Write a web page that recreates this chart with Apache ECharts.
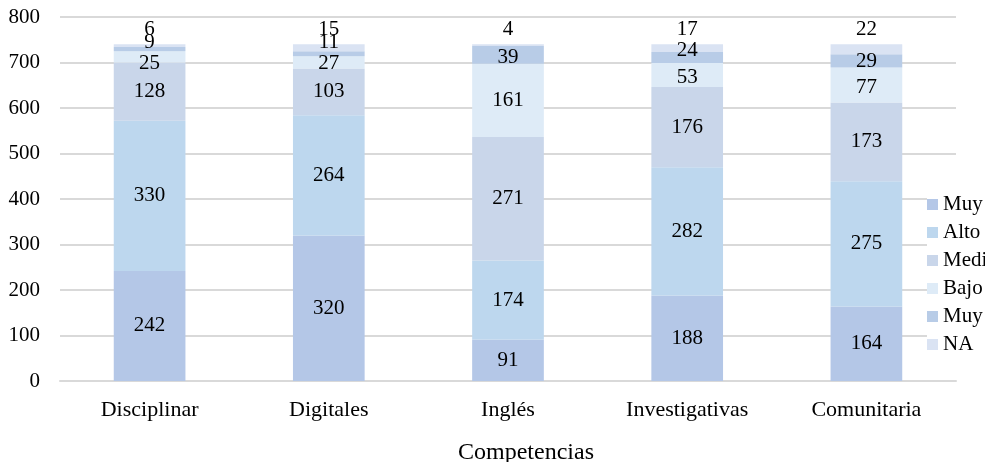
<!DOCTYPE html>
<html><head><meta charset="utf-8">
<script src="https://cdn.jsdelivr.net/npm/echarts@6/dist/echarts.min.js"></script>
<style>html,body{margin:0;padding:0;background:#fff}#c{width:985px;height:462px}</style>
</head><body><div id="c"></div>
<script>
const categories = ['Disciplinar','Digitales','Inglés','Investigativas','Comunitaria'];
const seriesNames = ['Muy alto','Alto','Medio','Bajo','Muy bajo','NA'];
const muyAlto = [242,320,91,188,164];
const alto = [330,264,174,282,275];
const medio = [128,103,271,176,173];
const bajo = [25,27,161,53,77];
const muyBajo = [9,11,39,24,29];
const na = [6,15,4,17,22];
const yTicks = [0,100,200,300,400,500,600,700,800];

const values = [muyAlto, alto, medio, bajo, muyBajo, na];
const colors = ['#b4c7e7','#bdd7ee','#c9d6ea','#deebf7','#b8cce7','#dae3f3'];
const FONT = '"Liberation Serif", "Times New Roman", serif';

// label nudges (pixels) for crowded small segments, as in the reference
const nudge = {3:[7,1,0,2,2], 4:[-7,-11,2,-7,1]};

const series = seriesNames.map((n,i)=>({
  name:n, type:'bar', stack:'t', barWidth:'40%',
  data: values[i].map((v,j)=>{
    const o = {value:v};
    if (nudge[i]) o.label = {offset:[0, nudge[i][j]]};
    return o;
  }),
  itemStyle:{color:colors[i]},
  label:{show:true, position: i===5 ? 'top' : 'inside', distance: i===5 ? 4 : 5,
    color:'#000', fontFamily:FONT, fontSize:21},
  emphasis:{disabled:true}
}));

const chart = echarts.init(document.getElementById('c'));
chart.setOption({
  animation:false,
  textStyle:{fontFamily:FONT},
  grid:{left:60, right:29, top:17, bottom:81, outerBoundsMode:'none', containLabel:false},
  legend:{orient:'vertical', left:927, top:194, itemWidth:11, itemHeight:11, itemGap:7,
    icon:'rect', backgroundColor:'#fff', padding:0,
    textStyle:{fontFamily:FONT, fontSize:21, color:'#000'}, data:seriesNames},
  xAxis:{type:'category', data:categories,
    axisLine:{show:true, lineStyle:{color:'#d9d9d9', width:2}},
    axisTick:{show:false},
    axisLabel:{color:'#000', fontFamily:FONT, fontSize:22, margin:18},
    name:'Competencias', nameLocation:'middle', nameGap:60,
    nameTextStyle:{color:'#000', fontFamily:FONT, fontSize:24, padding:[0,0,0,36]}},
  yAxis:{type:'value', min:yTicks[0], max:yTicks[yTicks.length-1], interval:100,
    axisLine:{show:false}, axisTick:{show:false},
    axisLabel:{color:'#000', fontFamily:FONT, fontSize:21, margin:20},
    splitLine:{lineStyle:{color:'#d9d9d9', width:2}}},
  series
});
</script></body></html>
